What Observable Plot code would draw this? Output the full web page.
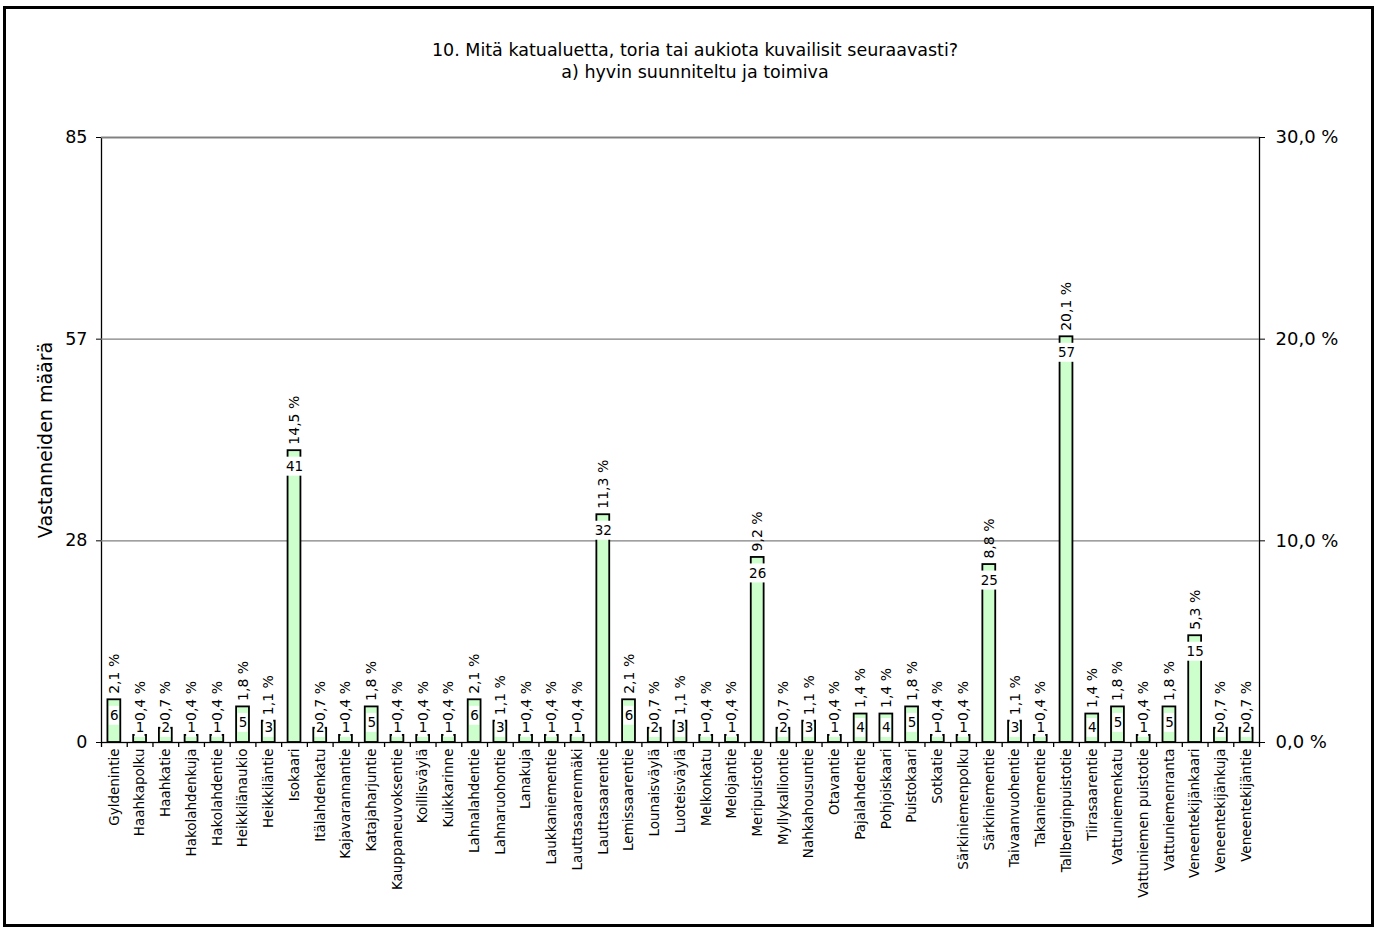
<!DOCTYPE html>
<html><head><meta charset="utf-8">
<script src="https://cdn.jsdelivr.net/npm/d3@7"></script>
<script src="https://cdn.jsdelivr.net/npm/@observablehq/plot@0.6"></script>
<style>
body{margin:0;background:#fff;}
#wrap{position:relative;width:1380px;height:928px;font-family:"DejaVu Sans",sans-serif;overflow:hidden;}
#border{position:absolute;left:3px;top:6px;width:1371px;height:921px;border:3px solid #000;box-sizing:border-box;pointer-events:none;}
#title{position:absolute;left:0;width:1390px;top:39px;text-align:center;font-size:17.5px;line-height:22px;color:#000;}
#chart{position:absolute;left:0;top:0;}
</style></head><body>
<div id="wrap"><div id="chart"></div><div id="title">10. Mitä katualuetta, toria tai aukiota kuvailisit seuraavasti?<br>a) hyvin suunniteltu ja toimiva</div><div id="border"></div></div>
<script>
const categories = ["Gyldenintie","Haahkapolku","Haahkatie","Hakolahdenkuja","Hakolahdentie","Heikkilänaukio","Heikkiläntie","Isokaari","Itälahdenkatu","Kajavarannantie","Katajaharjuntie","Kauppaneuvoksentie","Koillisväylä","Kuikkarinne","Lahnalahdentie","Lahnaruohontie","Lanakuja","Laukkaniementie","Lauttasaarenmäki","Lauttasaarentie","Lemissaarentie","Lounaisväylä","Luoteisväylä","Melkonkatu","Melojantie","Meripuistotie","Myllykalliontie","Nahkahousuntie","Otavantie","Pajalahdentie","Pohjoiskaari","Puistokaari","Sotkatie","Särkiniemenpolku","Särkiniementie","Taivaanvuohentie","Takaniementie","Tallberginpuistotie","Tiirasaarentie","Vattuniemenkatu","Vattuniemen puistotie","Vattuniemenranta","Veneentekijänkaari","Veneentekijänkuja","Veneentekijäntie"];
const counts = [6,1,2,1,1,5,3,41,2,1,5,1,1,1,6,3,1,1,1,32,6,2,3,1,1,26,2,3,1,4,4,5,1,1,25,3,1,57,4,5,1,5,15,2,2];
const percentLabels = ["2,1 %","0,4 %","0,7 %","0,4 %","0,4 %","1,8 %","1,1 %","14,5 %","0,7 %","0,4 %","1,8 %","0,4 %","0,4 %","0,4 %","2,1 %","1,1 %","0,4 %","0,4 %","0,4 %","11,3 %","2,1 %","0,7 %","1,1 %","0,4 %","0,4 %","9,2 %","0,7 %","1,1 %","0,4 %","1,4 %","1,4 %","1,8 %","0,4 %","0,4 %","8,8 %","1,1 %","0,4 %","20,1 %","1,4 %","1,8 %","0,4 %","1,8 %","5,3 %","0,7 %","0,7 %"];
const yMax = 85;
const yTicks = [0, yMax/3, 2*yMax/3, yMax];
const leftTickLabels = ["0","28","57","85"];
const rightTickLabels = ["0,0 %","10,0 %","20,0 %","30,0 %"];
const yLabel = "Vastanneiden määrä";

const W=1380, H=928, mL=101, mR=121, mT=137, mB=186;
const n = categories.length;
const step = (W-mL-mR)/n;
const ppu = (H-mT-mB)/yMax;
const data = categories.map((name,i)=>({name, count: counts[i], pct: percentLabels[i]}));
const countY = d => Math.max(d.count - 16/ppu, 14.5/ppu);
const boxH = 9.5/ppu;
const pctY = d => Math.max(d.count + 6/ppu, 21.5/ppu);

const chart = Plot.plot({
  width:W, height:H, marginLeft:mL, marginRight:mR, marginTop:mT, marginBottom:mB,
  style:{fontFamily:"DejaVu Sans, sans-serif", background:"transparent", color:"#000", overflow:"visible"},
  x:{domain: categories, paddingInner:0.5, paddingOuter:0.25, label:null},
  y:{domain:[0,yMax], label:null},
  marks:[
    Plot.frame({stroke:"#000", strokeWidth:1.3}),
    Plot.ruleY(yTicks.slice(1), {stroke:"#808080", strokeWidth:1.3}),
    Plot.barY(data, {x:"name", y:"count", fill:"#ccffcc", stroke:"#000", strokeWidth:1.8}),
    Plot.barY(data.filter(d=>String(d.count).length===1), {x:"name", y1: d=>countY(d)-boxH, y2: d=>countY(d)+boxH, fill:"white", insetLeft:1.5, insetRight:1.5}),
    Plot.barY(data.filter(d=>String(d.count).length>1), {x:"name", y1: d=>countY(d)-boxH, y2: d=>countY(d)+boxH, fill:"white", insetLeft:-3, insetRight:-3}),
    Plot.text(data, {x:"name", y: countY, text: d=>String(d.count), fontSize:13.5, fill:"#000"}),
    Plot.text(data, {x:"name", y: pctY, text:"pct", rotate:-90, textAnchor:"start", fontSize:14, fill:"#000"}),
    Plot.ruleX(categories, {x: d=>d, dx: -step/2, y1: 0, y2: -5/ppu, stroke:"#000", strokeWidth:1.3}),
    Plot.ruleX([categories[n-1]], {x: d=>d, dx: step/2, y1: 0, y2: -5/ppu, stroke:"#000", strokeWidth:1.3}),
    Plot.axisX({tickSize:0, tickRotate:-90, tickPadding:6, fontSize:13.5, label:null}),
    Plot.axisY(yTicks, {anchor:"left", tickFormat: d=>leftTickLabels[yTicks.indexOf(d)], tickSize:5, tickPadding:9, fontSize:17.5, label:null}),
    Plot.axisY(yTicks, {anchor:"right", tickFormat: d=>rightTickLabels[yTicks.indexOf(d)], tickSize:5, tickPadding:11, fontSize:18, label:null}),
    Plot.text([yLabel], {frameAnchor:"left", dx:-56, rotate:-90, textAnchor:"middle", fontSize:19, fill:"#000"})
  ]
});
document.getElementById("chart").appendChild(chart);
</script>
</body></html>
